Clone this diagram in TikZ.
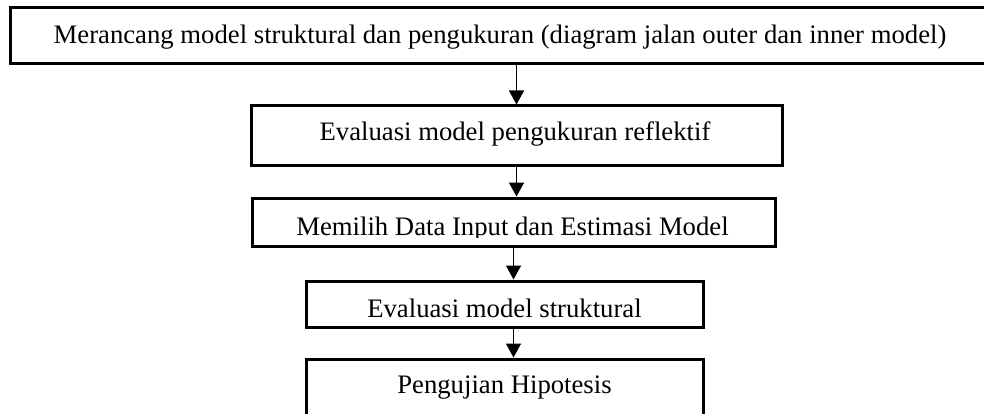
\documentclass[tikz,border=0pt]{standalone}
\usepackage{fontspec}
\setmainfont{Liberation Serif}
\usetikzlibrary{arrows.meta,positioning}

\begin{document}
\begin{tikzpicture}[x=1pt,y=-1pt,
  every node/.style={font=\fontsize{26.7}{32}\selectfont},
  box/.style={draw,line width=3pt,inner sep=0pt},
  txt/.style={anchor=base,inner sep=0pt},
  arr/.style={-{Triangle[length=14pt,width=15pt]},line width=1.4pt},
]
\useasboundingbox (0,0) rectangle (984,414);

%% ── Boxes ────────────────────────────────────────────────────────────────
\node[box,minimum width=980pt,minimum height=56pt] (b1) at (500,36) {};
\node[box,minimum width=531pt,minimum height=60pt] (b2) at (516.5,136) {};
\node[box,minimum width=523pt,minimum height=48pt] (b3) at (513.5,222) {};
\node[box,minimum width=397pt,minimum height=46pt] (b4) at (504.5,304) {};
\node[box,minimum width=397pt,minimum height=62pt] (b5) at (504.5,390) {};

%% ── Texts ────────────────────────────────────────────────────────────────
\node[txt] (t1) at ([yshift=-8pt]b1.center)
  {Merancang model struktural dan pengukuran (diagram jalan outer dan inner model)};
\node[txt] (t2) at ([xshift=-1.5pt,yshift=-5pt]b2.center)
  {Evaluasi model pengukuran reflektif};
\begin{scope}
  \clip (b3.north west) rectangle ([yshift=10.5pt]b3.south east);
  \node[txt] (t3) at ([xshift=-1pt,yshift=-13.5pt]b3.center)
    {Memilih Data Input dan Estimasi Model};
\end{scope}
\node[txt] (t4) at ([yshift=-13pt]b4.center) {Evaluasi model struktural};
\node[txt] (t5) at ([yshift=-3pt]b5.center) {Pengujian Hipotesis};

%% ── Arrows ───────────────────────────────────────────────────────────────
\draw[arr] (b1.south -| b2.north) -- (b2.north);
\draw[arr] (b2.south) -- (b2.south |- b3.north);
\draw[arr] (b3.south) -- (b3.south |- b4.north);
\draw[arr] (b4.south -| b3.south) -- (b3.south |- b5.north);

\end{tikzpicture}
\end{document}
